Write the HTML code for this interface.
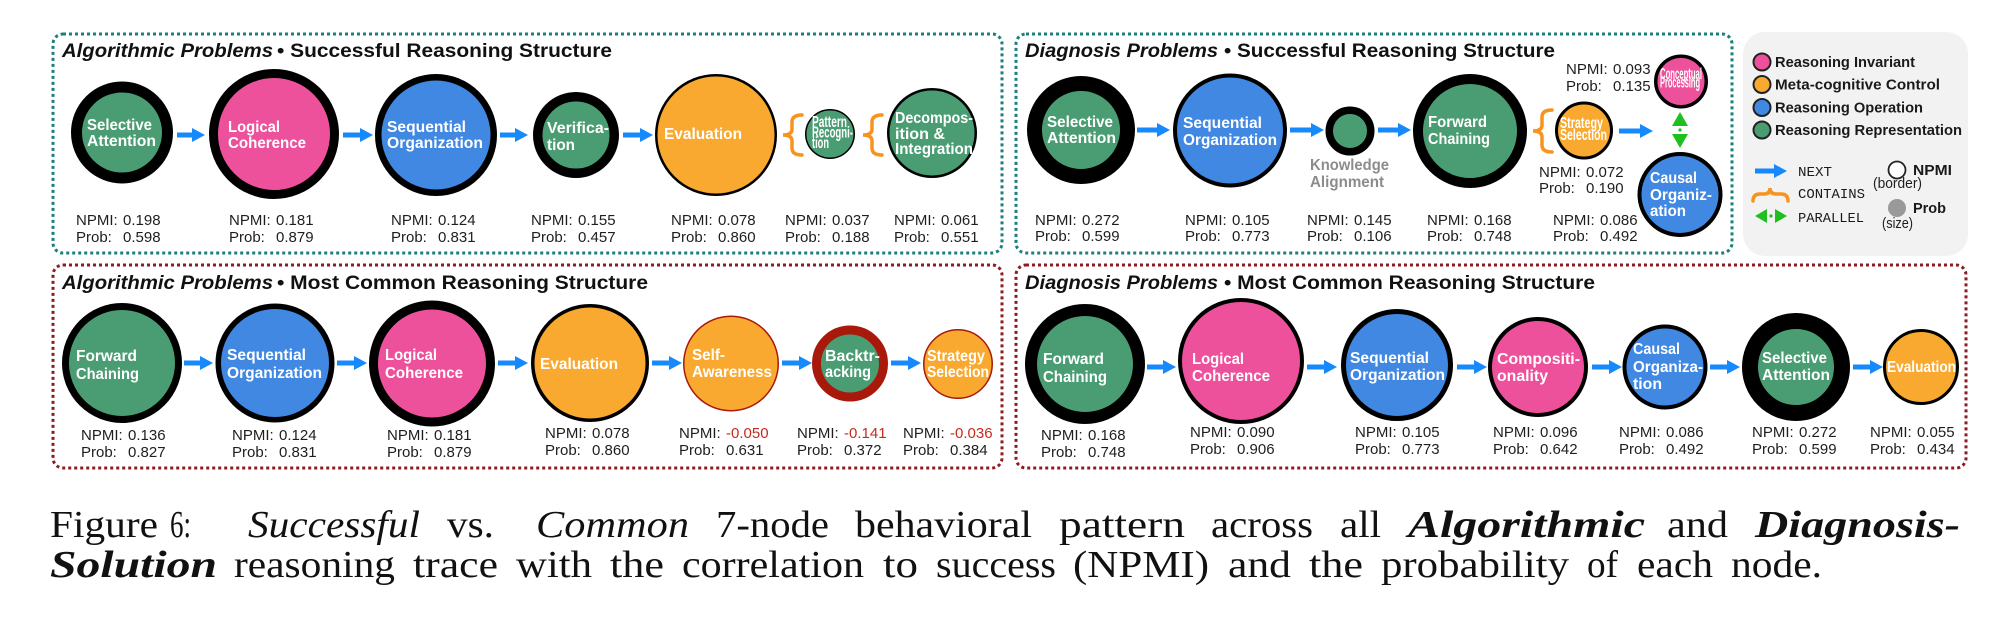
<!DOCTYPE html>
<html><head><meta charset="utf-8"><style>
html,body{margin:0;padding:0;background:#fff;}
svg{display:block;}
.t{font-family:"Liberation Sans",sans-serif;font-weight:bold;fill:#111;font-size:19px;}
.n{font-family:"Liberation Sans",sans-serif;font-weight:bold;fill:#fff;font-size:15.5px;}
.l{font-family:"Liberation Sans",sans-serif;fill:#1e1e1e;font-size:15px;}
.lg{font-family:"Liberation Sans",sans-serif;font-weight:bold;fill:#1a1a1a;font-size:14.5px;}
.m{font-family:"Liberation Mono","DejaVu Sans Mono",monospace;fill:#1a1a1a;font-size:14px;}
.c{font-family:"Liberation Serif",serif;fill:#111;font-size:38px;}
.r{fill:#c62a1e;}
</style></head><body>
<svg width="2000" height="630" viewBox="0 0 2000 630" xmlns="http://www.w3.org/2000/svg">
<defs></defs>
<!-- panel borders -->
<rect x="53" y="34" width="949" height="219" rx="10" fill="none" stroke="#1b7f7b" stroke-width="3" stroke-dasharray="3 3"/>
<rect x="1016" y="34" width="716" height="219" rx="10" fill="none" stroke="#1b7f7b" stroke-width="3" stroke-dasharray="3 3"/>
<rect x="53" y="265" width="949" height="203" rx="10" fill="none" stroke="#8c1c22" stroke-width="3" stroke-dasharray="3 3"/>
<rect x="1016" y="265" width="950" height="203" rx="10" fill="none" stroke="#8c1c22" stroke-width="3" stroke-dasharray="3 3"/>
<!-- legend box -->
<rect x="1743" y="32" width="225" height="224" rx="22" fill="#f2f2f2"/>

<!-- titles -->
<text class="t" x="62" y="57" font-style="italic" textLength="211" lengthAdjust="spacingAndGlyphs">Algorithmic Problems</text>
<text class="t" x="277" y="57" textLength="335" lengthAdjust="spacingAndGlyphs">• Successful Reasoning Structure</text>
<text class="t" x="1025" y="57" font-style="italic" textLength="193" lengthAdjust="spacingAndGlyphs">Diagnosis Problems</text>
<text class="t" x="1224" y="57" textLength="331" lengthAdjust="spacingAndGlyphs">• Successful Reasoning Structure</text>
<text class="t" x="62" y="289" font-style="italic" textLength="211" lengthAdjust="spacingAndGlyphs">Algorithmic Problems</text>
<text class="t" x="277" y="289" textLength="371" lengthAdjust="spacingAndGlyphs">• Most Common Reasoning Structure</text>
<text class="t" x="1025" y="289" font-style="italic" textLength="193" lengthAdjust="spacingAndGlyphs">Diagnosis Problems</text>
<text class="t" x="1224" y="289" textLength="371" lengthAdjust="spacingAndGlyphs">• Most Common Reasoning Structure</text>

<!-- arrows -->
<g fill="#1689fc">
<polygon points="177,132.5 192,132.5 192,128 205,135 192,142 192,137.5 177,137.5"/>
<polygon points="343,132.5 360,132.5 360,128 373,135 360,142 360,137.5 343,137.5"/>
<polygon points="500,132.5 515,132.5 515,128 528,135 515,142 515,137.5 500,137.5"/>
<polygon points="623,132.5 640,132.5 640,128 653,135 640,142 640,137.5 623,137.5"/>

<polygon points="1137,127.5 1157,127.5 1157,123 1170,130 1157,137 1157,132.5 1137,132.5"/>
<polygon points="1290,127.5 1311,127.5 1311,123 1324,130 1311,137 1311,132.5 1290,132.5"/>
<polygon points="1378,127.5 1398,127.5 1398,123 1411,130 1398,137 1398,132.5 1378,132.5"/>
<polygon points="1619,128.5 1640,128.5 1640,124 1653,131 1640,138 1640,133.5 1619,133.5"/>

<polygon points="184,360.5 200,360.5 200,356 213,363 200,370 200,365.5 184,365.5"/>
<polygon points="337,360.5 354,360.5 354,356 367,363 354,370 354,365.5 337,365.5"/>
<polygon points="498,360.5 515,360.5 515,356 528,363 515,370 515,365.5 498,365.5"/>
<polygon points="652,360.5 669,360.5 669,356 682,363 669,370 669,365.5 652,365.5"/>
<polygon points="782,360.5 799,360.5 799,356 812,363 799,370 799,365.5 782,365.5"/>
<polygon points="891,360.5 908,360.5 908,356 921,363 908,370 908,365.5 891,365.5"/>

<polygon points="1147,364.5 1163,364.5 1163,360 1176,367 1163,374 1163,369.5 1147,369.5"/>
<polygon points="1307,364.5 1324,364.5 1324,360 1337,367 1324,374 1324,369.5 1307,369.5"/>
<polygon points="1457,364.5 1474,364.5 1474,360 1487,367 1474,374 1474,369.5 1457,369.5"/>
<polygon points="1592,364.5 1609,364.5 1609,360 1622,367 1609,374 1609,369.5 1592,369.5"/>
<polygon points="1710,364.5 1727,364.5 1727,360 1740,367 1727,374 1727,369.5 1710,369.5"/>
<polygon points="1853,364.5 1870,364.5 1870,360 1883,367 1870,374 1870,369.5 1853,369.5"/>

<polygon points="1755,168.5 1774,168.5 1774,164 1787,171 1774,178 1774,173.5 1755,173.5"/>
</g>

<!-- braces -->
<g fill="none" stroke="#f7931e" stroke-width="3.5" stroke-linecap="round">
<path d="M802 115 Q792 115 792 122 L792 129 Q792 135 783 135 Q792 135 792 141 L792 148 Q792 155 802 155"/>
<path d="M882 115 Q872 115 872 122 L872 129 Q872 135 863 135 Q872 135 872 141 L872 148 Q872 155 882 155"/>
<path d="M1552 110 Q1542 110 1542 117 L1542 125 Q1542 131 1533 131 Q1542 131 1542 137 L1542 145 Q1542 152 1552 152"/>
<path d="M1753 201 Q1753 194 1760 194 L1764 194 Q1770 194 1770 188 Q1770 194 1776 194 L1781 194 Q1788 194 1788 201"/>
</g>

<!-- parallel -->
<g fill="#1fbf1f">
<polygon points="1680,112 1688,126 1672,126"/>
<circle cx="1680" cy="130" r="1.6"/>
<polygon points="1672,134 1688,134 1680,148"/>
<polygon points="1755,216 1767,209 1767,223"/>
<circle cx="1771" cy="216" r="1.6"/>
<polygon points="1775,209 1787,216 1775,223"/>
</g>

<!-- Panel 1 nodes -->
<circle cx="122" cy="132.5" r="45.5" fill="#4a9d72" stroke="#000" stroke-width="11"/>
<circle cx="274" cy="134" r="60.5" fill="#ee519b" stroke="#000" stroke-width="9"/>
<circle cx="436" cy="135" r="57.75" fill="#4188e2" stroke="#000" stroke-width="6.5"/>
<circle cx="576" cy="135" r="38.25" fill="#4a9d72" stroke="#000" stroke-width="9.5"/>
<circle cx="716" cy="135" r="59.75" fill="#f9a92f" stroke="#000" stroke-width="2.5"/>
<circle cx="830" cy="134" r="24.25" fill="#4a9d72" stroke="#000" stroke-width="1.5"/>
<circle cx="932" cy="133" r="43.75" fill="#4a9d72" stroke="#000" stroke-width="2.5"/>

<!-- Panel 2 nodes -->
<circle cx="1081" cy="130" r="46.5" fill="#4a9d72" stroke="#000" stroke-width="15"/>
<circle cx="1230" cy="130.5" r="55" fill="#4188e2" stroke="#000" stroke-width="4"/>
<circle cx="1350" cy="131" r="20.75" fill="#4a9d72" stroke="#000" stroke-width="7.5"/>
<circle cx="1470" cy="131" r="52" fill="#4a9d72" stroke="#000" stroke-width="10"/>
<circle cx="1584" cy="130.5" r="27.5" fill="#f9a92f" stroke="#000" stroke-width="3"/>
<circle cx="1681" cy="81.5" r="25.25" fill="#ee519b" stroke="#000" stroke-width="3.5"/>
<circle cx="1680" cy="194.5" r="40.5" fill="#4188e2" stroke="#000" stroke-width="4"/>

<!-- Panel 3 nodes -->
<circle cx="122" cy="363" r="56.5" fill="#4a9d72" stroke="#000" stroke-width="7"/>
<circle cx="275" cy="363" r="56.75" fill="#4188e2" stroke="#000" stroke-width="5.5"/>
<circle cx="432" cy="363.5" r="58.5" fill="#ee519b" stroke="#000" stroke-width="9"/>
<circle cx="590" cy="363" r="57.25" fill="#f9a92f" stroke="#000" stroke-width="3.5"/>
<circle cx="731" cy="363.5" r="47.25" fill="#f9a92f" stroke="#a8190c" stroke-width="1.5"/>
<circle cx="850" cy="363.5" r="33.5" fill="#4a9d72" stroke="#a8190c" stroke-width="9"/>
<circle cx="958" cy="364" r="34.25" fill="#f9a92f" stroke="#a8190c" stroke-width="1.5"/>

<!-- Panel 4 nodes -->
<circle cx="1085" cy="364" r="54" fill="#4a9d72" stroke="#000" stroke-width="12"/>
<circle cx="1241" cy="361" r="61" fill="#ee519b" stroke="#000" stroke-width="4"/>
<circle cx="1397" cy="365" r="53.5" fill="#4188e2" stroke="#000" stroke-width="5"/>
<circle cx="1538" cy="367" r="48" fill="#ee519b" stroke="#000" stroke-width="4"/>
<circle cx="1665" cy="367" r="40.5" fill="#4188e2" stroke="#000" stroke-width="4"/>
<circle cx="1796" cy="367" r="46" fill="#4a9d72" stroke="#000" stroke-width="16"/>
<circle cx="1921" cy="367" r="36.5" fill="#f9a92f" stroke="#000" stroke-width="3"/>

<!-- Node labels P1 -->
<text class="n" x="87" y="130" textLength="65" lengthAdjust="spacingAndGlyphs">Selective</text>
<text class="n" x="87" y="146" textLength="69" lengthAdjust="spacingAndGlyphs">Attention</text>
<text class="n" x="228" y="132" textLength="52" lengthAdjust="spacingAndGlyphs">Logical</text>
<text class="n" x="228" y="148" textLength="78" lengthAdjust="spacingAndGlyphs">Coherence</text>
<text class="n" x="387" y="132" textLength="79" lengthAdjust="spacingAndGlyphs">Sequential</text>
<text class="n" x="387" y="148" textLength="96" lengthAdjust="spacingAndGlyphs">Organization</text>
<text class="n" x="547" y="133" textLength="62" lengthAdjust="spacingAndGlyphs">Verifica-</text>
<text class="n" x="547" y="150" textLength="28" lengthAdjust="spacingAndGlyphs">tion</text>
<text class="n" x="664" y="139" textLength="78" lengthAdjust="spacingAndGlyphs">Evaluation</text>
<text class="n" x="812" y="127" font-size="9.5" textLength="35" lengthAdjust="spacingAndGlyphs">Pattern</text>
<text class="n" x="812" y="137.5" font-size="9.5" textLength="41" lengthAdjust="spacingAndGlyphs">Recogni-</text>
<text class="n" x="812" y="148" font-size="9.5" textLength="17" lengthAdjust="spacingAndGlyphs">tion</text>
<text class="n" x="895" y="123" font-size="14" textLength="78" lengthAdjust="spacingAndGlyphs">Decompos-</text>
<text class="n" x="895" y="139" font-size="14" textLength="50" lengthAdjust="spacingAndGlyphs">ition &amp;</text>
<text class="n" x="895" y="154" font-size="14" textLength="78" lengthAdjust="spacingAndGlyphs">Integration</text>

<!-- Node labels P2 -->
<text class="n" x="1047" y="127" textLength="66" lengthAdjust="spacingAndGlyphs">Selective</text>
<text class="n" x="1047" y="143" textLength="69" lengthAdjust="spacingAndGlyphs">Attention</text>
<text class="n" x="1183" y="128" textLength="79" lengthAdjust="spacingAndGlyphs">Sequential</text>
<text class="n" x="1183" y="145" textLength="94" lengthAdjust="spacingAndGlyphs">Organization</text>
<text class="n" x="1310" y="170" font-size="13.5" fill="#8c8c8c" style="fill:#8c8c8c" textLength="79" lengthAdjust="spacingAndGlyphs">Knowledge</text>
<text class="n" x="1310" y="187" font-size="13.5" style="fill:#8c8c8c" textLength="74" lengthAdjust="spacingAndGlyphs">Alignment</text>
<text class="n" x="1428" y="127" textLength="59" lengthAdjust="spacingAndGlyphs">Forward</text>
<text class="n" x="1428" y="144" textLength="62" lengthAdjust="spacingAndGlyphs">Chaining</text>
<text class="n" x="1560" y="128" font-size="10.5" textLength="43" lengthAdjust="spacingAndGlyphs">Strategy</text>
<text class="n" x="1560" y="140" font-size="10.5" textLength="47" lengthAdjust="spacingAndGlyphs">Selection</text>
<text class="n" x="1660" y="79" font-size="7.5" textLength="42" lengthAdjust="spacingAndGlyphs">Conceptual</text>
<text class="n" x="1660" y="87.5" font-size="7.5" textLength="40" lengthAdjust="spacingAndGlyphs">Processing</text>
<text class="n" x="1650" y="183" textLength="47" lengthAdjust="spacingAndGlyphs">Causal</text>
<text class="n" x="1650" y="200" textLength="62" lengthAdjust="spacingAndGlyphs">Organiz-</text>
<text class="n" x="1650" y="216" textLength="36" lengthAdjust="spacingAndGlyphs">ation</text>

<!-- Node labels P3 -->
<text class="n" x="76" y="361" textLength="61" lengthAdjust="spacingAndGlyphs">Forward</text>
<text class="n" x="76" y="379" textLength="63" lengthAdjust="spacingAndGlyphs">Chaining</text>
<text class="n" x="227" y="360" textLength="79" lengthAdjust="spacingAndGlyphs">Sequential</text>
<text class="n" x="227" y="378" textLength="95" lengthAdjust="spacingAndGlyphs">Organization</text>
<text class="n" x="385" y="360" textLength="52" lengthAdjust="spacingAndGlyphs">Logical</text>
<text class="n" x="385" y="378" textLength="78" lengthAdjust="spacingAndGlyphs">Coherence</text>
<text class="n" x="540" y="369" textLength="78" lengthAdjust="spacingAndGlyphs">Evaluation</text>
<text class="n" x="692" y="360" textLength="33" lengthAdjust="spacingAndGlyphs">Self-</text>
<text class="n" x="692" y="377" textLength="80" lengthAdjust="spacingAndGlyphs">Awareness</text>
<text class="n" x="825" y="361" font-size="14.5" textLength="55" lengthAdjust="spacingAndGlyphs">Backtr-</text>
<text class="n" x="825" y="377" font-size="14.5" textLength="46" lengthAdjust="spacingAndGlyphs">acking</text>
<text class="n" x="927" y="361" font-size="14.5" textLength="58" lengthAdjust="spacingAndGlyphs">Strategy</text>
<text class="n" x="927" y="377" font-size="14.5" textLength="62" lengthAdjust="spacingAndGlyphs">Selection</text>

<!-- Node labels P4 -->
<text class="n" x="1043" y="364" textLength="61" lengthAdjust="spacingAndGlyphs">Forward</text>
<text class="n" x="1043" y="382" textLength="64" lengthAdjust="spacingAndGlyphs">Chaining</text>
<text class="n" x="1192" y="364" textLength="52" lengthAdjust="spacingAndGlyphs">Logical</text>
<text class="n" x="1192" y="381" textLength="78" lengthAdjust="spacingAndGlyphs">Coherence</text>
<text class="n" x="1350" y="363" textLength="79" lengthAdjust="spacingAndGlyphs">Sequential</text>
<text class="n" x="1350" y="380" textLength="95" lengthAdjust="spacingAndGlyphs">Organization</text>
<text class="n" x="1497" y="364" font-size="14.5" textLength="83" lengthAdjust="spacingAndGlyphs">Compositi-</text>
<text class="n" x="1497" y="381" font-size="14.5" textLength="51" lengthAdjust="spacingAndGlyphs">onality</text>
<text class="n" x="1633" y="354" font-size="14.5" textLength="47" lengthAdjust="spacingAndGlyphs">Causal</text>
<text class="n" x="1633" y="372" font-size="14.5" textLength="70" lengthAdjust="spacingAndGlyphs">Organiza-</text>
<text class="n" x="1633" y="389" font-size="14.5" textLength="29" lengthAdjust="spacingAndGlyphs">tion</text>
<text class="n" x="1762" y="363" textLength="65" lengthAdjust="spacingAndGlyphs">Selective</text>
<text class="n" x="1762" y="380" textLength="68" lengthAdjust="spacingAndGlyphs">Attention</text>
<text class="n" x="1887" y="372" font-size="14" textLength="69" lengthAdjust="spacingAndGlyphs">Evaluation</text>

<!-- NPMI / Prob labels P1 -->
<g class="l">
<text x="76" y="225">NPMI:<tspan x="123">0.198</tspan></text><text x="76" y="242">Prob:<tspan x="123">0.598</tspan></text>
<text x="229" y="225">NPMI:<tspan x="276">0.181</tspan></text><text x="229" y="242">Prob:<tspan x="276">0.879</tspan></text>
<text x="391" y="225">NPMI:<tspan x="438">0.124</tspan></text><text x="391" y="242">Prob:<tspan x="438">0.831</tspan></text>
<text x="531" y="225">NPMI:<tspan x="578">0.155</tspan></text><text x="531" y="242">Prob:<tspan x="578">0.457</tspan></text>
<text x="671" y="225">NPMI:<tspan x="718">0.078</tspan></text><text x="671" y="242">Prob:<tspan x="718">0.860</tspan></text>
<text x="785" y="225">NPMI:<tspan x="832">0.037</tspan></text><text x="785" y="242">Prob:<tspan x="832">0.188</tspan></text>
<text x="894" y="225">NPMI:<tspan x="941">0.061</tspan></text><text x="894" y="242">Prob:<tspan x="941">0.551</tspan></text>

<text x="1035" y="225">NPMI:<tspan x="1082">0.272</tspan></text><text x="1035" y="241">Prob:<tspan x="1082">0.599</tspan></text>
<text x="1185" y="225">NPMI:<tspan x="1232">0.105</tspan></text><text x="1185" y="241">Prob:<tspan x="1232">0.773</tspan></text>
<text x="1307" y="225">NPMI:<tspan x="1354">0.145</tspan></text><text x="1307" y="241">Prob:<tspan x="1354">0.106</tspan></text>
<text x="1427" y="225">NPMI:<tspan x="1474">0.168</tspan></text><text x="1427" y="241">Prob:<tspan x="1474">0.748</tspan></text>
<text x="1553" y="225">NPMI:<tspan x="1600">0.086</tspan></text><text x="1553" y="241">Prob:<tspan x="1600">0.492</tspan></text>
<text x="1566" y="74">NPMI:<tspan x="1613">0.093</tspan></text><text x="1566" y="91">Prob:<tspan x="1613">0.135</tspan></text>
<text x="1539" y="177">NPMI:<tspan x="1586">0.072</tspan></text><text x="1539" y="193">Prob:<tspan x="1586">0.190</tspan></text>

<text x="81" y="440">NPMI:<tspan x="128">0.136</tspan></text><text x="81" y="457">Prob:<tspan x="128">0.827</tspan></text>
<text x="232" y="440">NPMI:<tspan x="279">0.124</tspan></text><text x="232" y="457">Prob:<tspan x="279">0.831</tspan></text>
<text x="387" y="440">NPMI:<tspan x="434">0.181</tspan></text><text x="387" y="457">Prob:<tspan x="434">0.879</tspan></text>
<text x="545" y="438">NPMI:<tspan x="592">0.078</tspan></text><text x="545" y="455">Prob:<tspan x="592">0.860</tspan></text>
<text x="679" y="438">NPMI:<tspan x="726" class="r">-0.050</tspan></text><text x="679" y="455">Prob:<tspan x="726">0.631</tspan></text>
<text x="797" y="438">NPMI:<tspan x="844" class="r">-0.141</tspan></text><text x="797" y="455">Prob:<tspan x="844">0.372</tspan></text>
<text x="903" y="438">NPMI:<tspan x="950" class="r">-0.036</tspan></text><text x="903" y="455">Prob:<tspan x="950">0.384</tspan></text>

<text x="1041" y="440">NPMI:<tspan x="1088">0.168</tspan></text><text x="1041" y="457">Prob:<tspan x="1088">0.748</tspan></text>
<text x="1190" y="437">NPMI:<tspan x="1237">0.090</tspan></text><text x="1190" y="454">Prob:<tspan x="1237">0.906</tspan></text>
<text x="1355" y="437">NPMI:<tspan x="1402">0.105</tspan></text><text x="1355" y="454">Prob:<tspan x="1402">0.773</tspan></text>
<text x="1493" y="437">NPMI:<tspan x="1540">0.096</tspan></text><text x="1493" y="454">Prob:<tspan x="1540">0.642</tspan></text>
<text x="1619" y="437">NPMI:<tspan x="1666">0.086</tspan></text><text x="1619" y="454">Prob:<tspan x="1666">0.492</tspan></text>
<text x="1752" y="437">NPMI:<tspan x="1799">0.272</tspan></text><text x="1752" y="454">Prob:<tspan x="1799">0.599</tspan></text>
<text x="1870" y="437">NPMI:<tspan x="1917">0.055</tspan></text><text x="1870" y="454">Prob:<tspan x="1917">0.434</tspan></text>
</g>

<!-- Legend -->
<circle cx="1762" cy="62" r="8.5" fill="#ee519b" stroke="#222" stroke-width="2"/>
<circle cx="1762" cy="84.5" r="8.5" fill="#f9a92f" stroke="#222" stroke-width="2"/>
<circle cx="1762" cy="107.5" r="8.5" fill="#4188e2" stroke="#222" stroke-width="2"/>
<circle cx="1762" cy="130" r="8.5" fill="#4a9d72" stroke="#222" stroke-width="2"/>
<text class="lg" x="1775" y="67" textLength="140" lengthAdjust="spacingAndGlyphs">Reasoning Invariant</text>
<text class="lg" x="1775" y="89.5" textLength="165" lengthAdjust="spacingAndGlyphs">Meta-cognitive Control</text>
<text class="lg" x="1775" y="112.5" textLength="148" lengthAdjust="spacingAndGlyphs">Reasoning Operation</text>
<text class="lg" x="1775" y="135" textLength="187" lengthAdjust="spacingAndGlyphs">Reasoning Representation</text>
<text class="m" x="1798" y="176" textLength="34" lengthAdjust="spacingAndGlyphs">NEXT</text>
<text class="m" x="1798" y="198" textLength="67" lengthAdjust="spacingAndGlyphs">CONTAINS</text>
<text class="m" x="1798" y="222" textLength="66" lengthAdjust="spacingAndGlyphs">PARALLEL</text>
<circle cx="1897" cy="170" r="8.5" fill="#fff" stroke="#222" stroke-width="1.8"/>
<text class="lg" x="1913" y="175" font-size="15" textLength="39" lengthAdjust="spacingAndGlyphs">NPMI</text>
<text class="l" x="1873" y="188" font-size="12" textLength="49" lengthAdjust="spacingAndGlyphs">(border)</text>
<circle cx="1897" cy="208" r="9" fill="#999"/>
<text class="lg" x="1913" y="213" font-size="15" textLength="33" lengthAdjust="spacingAndGlyphs">Prob</text>
<text class="l" x="1882" y="228" font-size="12" textLength="31" lengthAdjust="spacingAndGlyphs">(size)</text>

<!-- Caption -->
<g class="c">
<text x="50" y="537" textLength="108" lengthAdjust="spacingAndGlyphs">Figure</text>
<text x="170" y="537" textLength="21" lengthAdjust="spacingAndGlyphs">6:</text>
<text x="248" y="537" font-style="italic" textLength="172" lengthAdjust="spacingAndGlyphs">Successful</text>
<text x="447" y="537" textLength="47" lengthAdjust="spacingAndGlyphs">vs.</text>
<text x="536" y="537" font-style="italic" textLength="153" lengthAdjust="spacingAndGlyphs">Common</text>
<text x="716" y="537" textLength="113" lengthAdjust="spacingAndGlyphs">7-node</text>
<text x="855" y="537" textLength="177" lengthAdjust="spacingAndGlyphs">behavioral</text>
<text x="1059" y="537" textLength="126" lengthAdjust="spacingAndGlyphs">pattern</text>
<text x="1211" y="537" textLength="102" lengthAdjust="spacingAndGlyphs">across</text>
<text x="1340" y="537" textLength="41" lengthAdjust="spacingAndGlyphs">all</text>
<text x="1408" y="537" font-weight="bold" font-style="italic" textLength="237" lengthAdjust="spacingAndGlyphs">Algorithmic</text>
<text x="1667" y="537" textLength="61" lengthAdjust="spacingAndGlyphs">and</text>
<text x="1755" y="537" font-weight="bold" font-style="italic" textLength="205" lengthAdjust="spacingAndGlyphs">Diagnosis-</text>

<text x="50" y="577" font-weight="bold" font-style="italic" textLength="167" lengthAdjust="spacingAndGlyphs">Solution</text>
<text x="234" y="577" textLength="161" lengthAdjust="spacingAndGlyphs">reasoning</text>
<text x="413" y="577" textLength="85" lengthAdjust="spacingAndGlyphs">trace</text>
<text x="516" y="577" textLength="76" lengthAdjust="spacingAndGlyphs">with</text>
<text x="610" y="577" textLength="54" lengthAdjust="spacingAndGlyphs">the</text>
<text x="682" y="577" textLength="182" lengthAdjust="spacingAndGlyphs">correlation</text>
<text x="883" y="577" textLength="35" lengthAdjust="spacingAndGlyphs">to</text>
<text x="936" y="577" textLength="120" lengthAdjust="spacingAndGlyphs">success</text>
<text x="1073" y="577" textLength="136" lengthAdjust="spacingAndGlyphs">(NPMI)</text>
<text x="1228" y="577" textLength="63" lengthAdjust="spacingAndGlyphs">and</text>
<text x="1309" y="577" textLength="54" lengthAdjust="spacingAndGlyphs">the</text>
<text x="1381" y="577" textLength="188" lengthAdjust="spacingAndGlyphs">probability</text>
<text x="1587" y="577" textLength="31" lengthAdjust="spacingAndGlyphs">of</text>
<text x="1637" y="577" textLength="76" lengthAdjust="spacingAndGlyphs">each</text>
<text x="1731" y="577" textLength="91" lengthAdjust="spacingAndGlyphs">node.</text>
</g>
</svg>
</body></html>
